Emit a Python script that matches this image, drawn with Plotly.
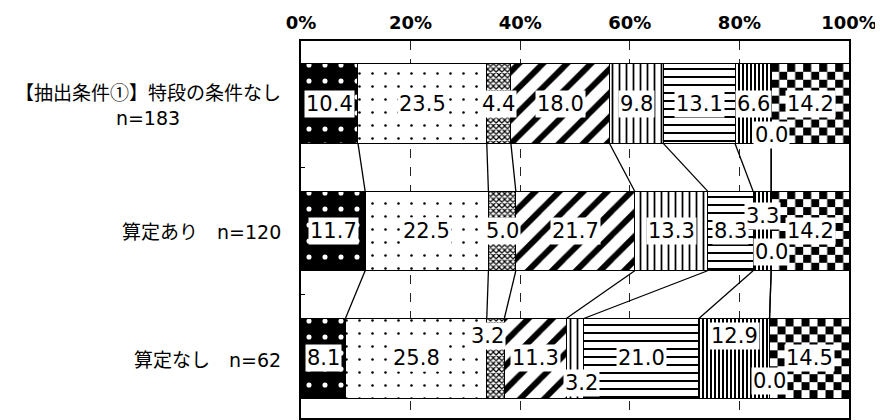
import base64
import plotly.graph_objects as go

# rows (top to bottom)
row_names = ["【抽出条件①】特段の条件なし", "算定あり", "算定なし"]
row_n = [183, 120, 62]

# shares (%) of the nine answer categories for each row
vals_all = [10.4, 23.5, 4.4, 18.0, 9.8, 13.1, 6.6, 0.0, 14.2]
vals_ari = [11.7, 22.5, 5.0, 21.7, 13.3, 8.3, 3.3, 0.0, 14.2]
vals_nashi = [8.1, 25.8, 3.2, 11.3, 3.2, 21.0, 12.9, 0.0, 14.5]

x_ticks = [0, 20, 40, 60, 80, 100]
x_ticktext = ["0%", "20%", "40%", "60%", "80%", "100%"]

rows = [vals_all, vals_ari, vals_nashi]
JP_FONT = "Noto Sans CJK JP"
NUM_FONT = "DejaVu Sans"
BAR_W = 0.625

# page body has an 8px margin, so the figure is 8px smaller than the window
FIG_W, FIG_H = 875, 412
M_L, M_R, M_T = 293, 34, 33
Y_RANGE = [2.469, -0.492]
PX_PER_PCT = (FIG_W - M_L - M_R) / 100
PX_PER_ROW = (FIG_H - M_T) / (Y_RANGE[0] - Y_RANGE[1])

# fill pattern of each category (black & white print style)
patterns = [
    dict(shape=".", bgcolor="black", fgcolor="white", size=16, solidity=0.08),
    dict(shape=".", bgcolor="white", fgcolor="black", size=13, solidity=0.03),
    dict(shape="x", bgcolor="white", fgcolor="black", size=4, solidity=0.5),
    dict(shape="/", bgcolor="white", fgcolor="black", size=17, solidity=0.35),
    dict(shape="|", bgcolor="white", fgcolor="black", size=7, solidity=0.25),
    dict(shape="-", bgcolor="white", fgcolor="black", size=8, solidity=0.25),
    dict(shape="|", bgcolor="white", fgcolor="black", size=4, solidity=0.5),
    dict(shape="", bgcolor="white", fgcolor="black", size=8, solidity=0.3),
    None,  # checkerboard, drawn as a texture image under the bar outline
]

# label nudges in px for crowded segments: (row, segment) -> (xshift, yshift)
label_shift = {
    (0, 7): (0, -31),
    (1, 6): (0, 15),
    (1, 7): (0, -21),
    (2, 2): (-8, 22),
    (2, 4): (6, -25),
    (2, 6): (0, 22),
    (2, 7): (0, -23),
}


def checker_src(w_px, h_px, sq=8):
    svg = (
        f'<svg xmlns="http://www.w3.org/2000/svg" width="{w_px:.1f}" height="{h_px:.1f}" '
        f'viewBox="0 0 {w_px:.1f} {h_px:.1f}" preserveAspectRatio="none">'
        f'<defs><pattern id="c" width="{2 * sq}" height="{2 * sq}" patternUnits="userSpaceOnUse">'
        f'<rect width="{sq}" height="{sq}" fill="black"/>'
        f'<rect x="{sq}" y="{sq}" width="{sq}" height="{sq}" fill="black"/></pattern></defs>'
        f'<rect width="100%" height="100%" fill="white"/>'
        f'<rect width="100%" height="100%" fill="url(#c)"/></svg>'
    )
    return "data:image/svg+xml;base64," + base64.b64encode(svg.encode()).decode()


fig = go.Figure()

ypos = list(range(len(rows)))
for i, pat in enumerate(patterns):
    if pat is None:
        marker = dict(color="rgba(0,0,0,0)", line=dict(color="black", width=1))
    else:
        marker = dict(color="white", line=dict(color="black", width=1),
                      pattern=dict(pat, fgopacity=1))
    fig.add_trace(go.Bar(
        x=[r[i] for r in rows], y=ypos, orientation="h", width=BAR_W,
        marker=marker, showlegend=False, hoverinfo="x",
    ))

# checker texture for the last category
for ri, r in enumerate(rows):
    start = sum(r[:-1])
    fig.add_layout_image(
        source=checker_src(r[-1] * PX_PER_PCT, BAR_W * PX_PER_ROW),
        xref="x", yref="y", x=start, y=ri - BAR_W / 2,
        sizex=r[-1], sizey=BAR_W, sizing="stretch",
        xanchor="left", yanchor="top", layer="below",
    )

# connector lines between the stacked bars
cums = []
for r in rows:
    c, acc = [], 0.0
    for v in r[:-1]:
        acc += v
        c.append(acc)
    cums.append(c)

lx, ly = [], []
for k in range(len(rows) - 1):
    for a, b in zip(cums[k], cums[k + 1]):
        lx += [a, b, None]
        ly += [k + BAR_W / 2, k + 1 - BAR_W / 2, None]
fig.add_trace(go.Scatter(x=lx, y=ly, mode="lines", line=dict(color="black", width=1.3),
                         showlegend=False, hoverinfo="skip"))

# value labels
for ri, r in enumerate(rows):
    acc = 0.0
    for si, v in enumerate(r):
        dx, dy = label_shift.get((ri, si), (0, 0))
        fig.add_annotation(
            x=acc + v / 2, y=ri, text=f"{v:.1f}", showarrow=False,
            xshift=dx, yshift=dy, bgcolor="white", borderpad=1,
            font=dict(family=NUM_FONT, size=21, color="black"),
        )
        acc += v

# row labels
for ri, (name, n) in enumerate(zip(row_names, row_n)):
    sep = "<br>" if ri == 0 else "　"
    text = f'{name}{sep}<span style="font-family:{NUM_FONT}">n={n}</span>'
    fig.add_annotation(
        x=0, xref="paper", y=ri, yref="y", text=text, showarrow=False,
        xanchor="right", xshift=-18, align="center",
        font=dict(family=JP_FONT, size=19, color="black"),
    )

fig.update_layout(
    barmode="stack",
    width=FIG_W, height=FIG_H,
    margin=dict(l=M_L, r=M_R, t=M_T, b=0),
    paper_bgcolor="white", plot_bgcolor="white",
    font=dict(family=JP_FONT, color="black"),
    xaxis=dict(
        side="top", range=[0, 100], tickvals=x_ticks, ticktext=x_ticktext,
        tickfont=dict(family=NUM_FONT, size=18, weight="bold", color="black"),
        ticklabelstandoff=3,
        showgrid=True, gridcolor="#222", griddash="dash", gridwidth=1,
        showline=True, linecolor="black", linewidth=1.5, mirror=True,
        zeroline=False, fixedrange=True,
    ),
    yaxis=dict(
        range=Y_RANGE, tickvals=[0.5, 1.5], ticks="inside", ticklen=4,
        tickcolor="black", showticklabels=False, showgrid=False, zeroline=False,
        showline=True, linecolor="black", linewidth=1.5, mirror=True, fixedrange=True,
    ),
)

fig.write_html("out.html")
